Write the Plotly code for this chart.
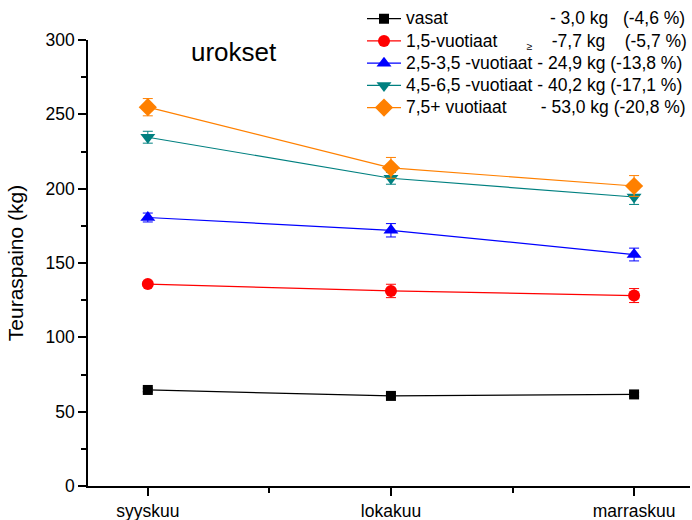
import plotly.graph_objects as go

# Months on the x axis
months = ["syyskuu", "lokakuu", "marraskuu"]
month_pos = [0, 1, 2]

# Mean carcass weight (kg) per age group and month
vasat = [64.6, 60.6, 61.6]
v15 = [135.8, 131.2, 128.1]
v25_35 = [180.6, 172.0, 155.7]
v45_65 = [234.6, 207.0, 194.4]
v75 = [254.8, 214.0, 201.8]

# Error bar half-widths (kg)
vasat_err = [1.2, 1.2, 1.2]
v15_err = [1.5, 4.5, 4.7]
v25_35_err = [3.0, 4.5, 4.3]
v45_65_err = [4.0, 4.0, 5.0]
v75_err = [5.8, 7.0, 7.0]

NB = "\u00a0"
LEG = '<span style="font-size:17.5px">{}</span>'
names = [
    LEG.format("vasat" + NB * 21 + "-" + NB + "3,0" + NB + "kg" + NB * 3 + "(-4,6" + NB + "%)"),
    LEG.format("1,5-vuotiaat" + NB * 6) + "<sub>≥</sub>"
    + LEG.format(NB * 4 + "-7,7" + NB + "kg" + NB * 4 + "(-5,7" + NB + "%)"),
    LEG.format("2,5-3,5" + NB + "-vuotiaat" + NB + "-" + NB + "24,9" + NB + "kg" + NB + "(-13,8" + NB + "%)"),
    LEG.format("4,5-6,5" + NB + "-vuotiaat" + NB + "-" + NB + "40,2" + NB + "kg" + NB + "(-17,1" + NB + "%)"),
    LEG.format("7,5+" + NB + "vuotiaat" + NB * 7 + "-" + NB + "53,0" + NB + "kg" + NB + "(-20,8" + NB + "%)"),
]

series = [vasat, v15, v25_35, v45_65, v75]
errors = [vasat_err, v15_err, v25_35_err, v45_65_err, v75_err]
colors = ["#000000", "#FF0000", "#0000FF", "#008080", "#FF8000"]
symbols = ["square", "circle", "triangle-up", "triangle-down", "diamond"]
sizes = [10, 12, 13, 13, 14]

FONT = "Arial, Liberation Sans, sans-serif"

fig = go.Figure()
for name, ys, err, col, sym, sz in zip(names, series, errors, colors, symbols, sizes):
    fig.add_trace(go.Scatter(
        x=month_pos, y=ys, name=name, mode="lines+markers",
        line=dict(color=col, width=1.2),
        marker=dict(symbol=sym, size=sz, color=col, line=dict(width=0)),
        error_y=dict(type="data", array=err, visible=True,
                     color=col, thickness=1, width=5),
    ))

fig.add_annotation(
    text="urokset", xref="paper", yref="paper", x=0.2417, y=0.973,
    showarrow=False, font=dict(family=FONT, size=26, color="#000000"),
    xanchor="center", yanchor="middle",
)

fig.update_layout(
    width=692, height=520,
    margin=dict(l=88, r=0, t=40, b=34),
    paper_bgcolor="white", plot_bgcolor="white",
    font=dict(family=FONT, color="#000000"),
    showlegend=True,
    legend=dict(
        x=0.4553, y=1.084, xanchor="left", yanchor="top",
        font=dict(family=FONT, size=14.8, color="#000000"),
        bgcolor="rgba(0,0,0,0)", borderwidth=0,
        tracegroupgap=0, itemwidth=34,
    ),
    xaxis=dict(
        range=[-0.246, 2.23],
        tickmode="array", tickvals=month_pos, ticktext=months,
        showgrid=False, zeroline=False,
        showline=True, linecolor="#000000", linewidth=1.5,
        ticks="outside", ticklen=8, tickwidth=1.5, tickcolor="#000000",
        tickfont=dict(family=FONT, size=17.5, color="#000000"),
        minor=dict(tick0=0.5, dtick=1, ticks="outside", ticklen=5,
                   tickwidth=1.5, tickcolor="#000000", showgrid=False),
    ),
    yaxis=dict(
        range=[0, 300], dtick=50, tick0=0,
        showgrid=False, zeroline=False,
        showline=True, linecolor="#000000", linewidth=1.5,
        ticks="outside", ticklen=8, tickwidth=1.5, tickcolor="#000000",
        tickfont=dict(family=FONT, size=17.5, color="#000000"),
        minor=dict(dtick=25, ticks="outside", ticklen=5,
                   tickwidth=1.5, tickcolor="#000000", showgrid=False),
        title=dict(text="Teuraspaino (kg)", standoff=16,
                   font=dict(family=FONT, size=21, color="#000000")),
    ),
)

fig.write_html("out.html")
